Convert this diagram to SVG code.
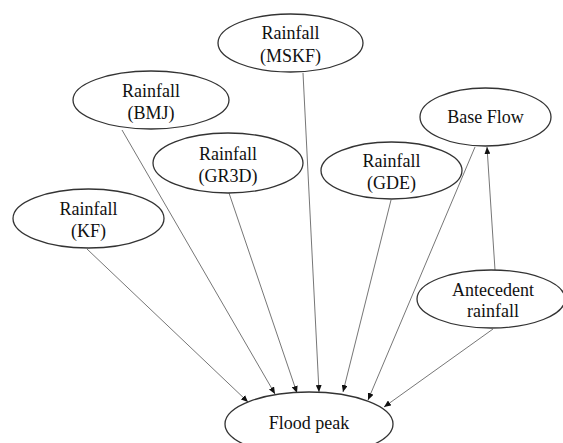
<svg xmlns="http://www.w3.org/2000/svg" width="563" height="443" viewBox="0 0 563 443">
<style>
.node ellipse{fill:#fff;stroke:#333;stroke-width:1.3}
.node text{font-family:"Liberation Serif","Times New Roman",serif;font-size:18px;fill:#111;text-anchor:middle}
.edges line{stroke:#666;stroke-width:0.9;marker-end:url(#arr)}
</style>
<defs>
<marker id="arr" markerUnits="userSpaceOnUse" markerWidth="8" markerHeight="6" refX="7" refY="3" orient="auto">
<path d="M0,0 L7,3 L0,6 Z" fill="#111"/>
</marker>
</defs>
<rect width="563" height="443" fill="#fff"/>
<g class="edges">
<line x1="87" y1="249" x2="248" y2="402"/>
<line x1="122" y1="130" x2="275" y2="394"/>
<line x1="229" y1="193" x2="297" y2="393"/>
<line x1="303" y1="73" x2="319" y2="392"/>
<line x1="391" y1="200" x2="343" y2="392"/>
<line x1="475" y1="147" x2="368" y2="400"/>
<line x1="493" y1="329" x2="384" y2="407"/>
<line x1="495" y1="270" x2="487" y2="147"/>
</g>
<g id="mskf" class="node"><ellipse cx="290.5" cy="43" rx="72.5" ry="29"/><text x="290.5" y="39">Rainfall</text><text x="290.5" y="62">(MSKF)</text></g>
<g id="bmj" class="node"><ellipse cx="151" cy="100" rx="78" ry="29"/><text x="151" y="96.5">Rainfall</text><text x="151" y="118.5">(BMJ)</text></g>
<g id="gr3d" class="node"><ellipse cx="228" cy="163" rx="75" ry="30"/><text x="228" y="159.5">Rainfall</text><text x="228" y="181.5">(GR3D)</text></g>
<g id="gde" class="node"><ellipse cx="391.5" cy="170.5" rx="70.5" ry="28.5"/><text x="391.5" y="167">Rainfall</text><text x="391.5" y="189">(GDE)</text></g>
<g id="baseflow" class="node"><ellipse cx="485.5" cy="117" rx="65.5" ry="29"/><text x="485.5" y="123">Base Flow</text></g>
<g id="kf" class="node"><ellipse cx="88.5" cy="218.5" rx="75.5" ry="29.5"/><text x="88.5" y="215">Rainfall</text><text x="88.5" y="237">(KF)</text></g>
<g id="antecedent" class="node"><ellipse cx="491" cy="299" rx="74" ry="29"/><text x="493" y="296">Antecedent</text><text x="493" y="317">rainfall</text></g>
<g id="floodpeak" class="node"><ellipse cx="309" cy="424" rx="84" ry="32"/><text x="309" y="429">Flood peak</text></g>
</svg>
